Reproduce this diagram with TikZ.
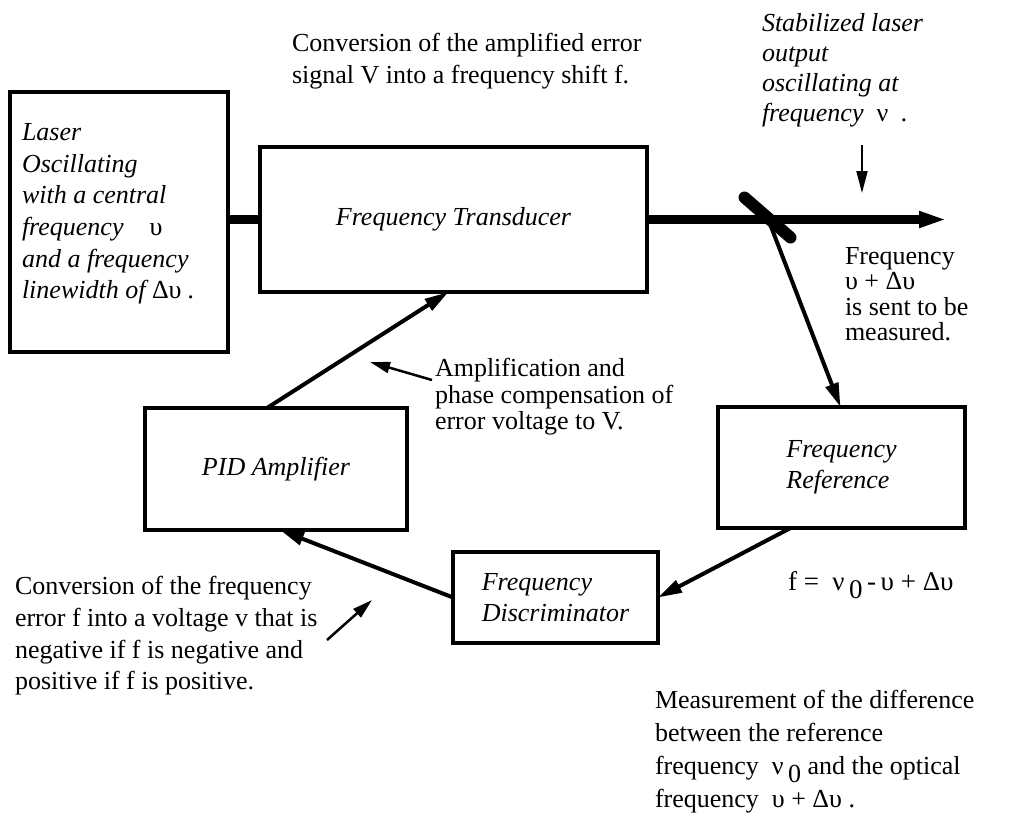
\documentclass[tikz,border=0pt]{standalone}
\usepackage{fontspec}
\setmainfont{Liberation Serif}
\usetikzlibrary{arrows.meta,calc}
\begin{document}
\begin{tikzpicture}[x=1pt,y=-1pt,
  blk/.style={draw, line width=3.5pt, inner sep=0pt, outer sep=0pt, anchor=north west, align=left,
    font=\itshape\fontsize{26}{31}\selectfont},
  txt/.style={inner sep=0pt, outer sep=0pt, anchor=west, align=left},
  beam/.style={line width=9pt},
  looparrow/.style={line width=4pt, -{Triangle[length=24pt,width=13pt]}},
  pointer/.style={line width=2.5pt, -{Triangle[length=20pt,width=11pt]}}
]
\useasboundingbox (0,0) rectangle (1011,819);

% boxes
\node[blk, minimum width=218pt, minimum height=260pt] (laser) at (10,92) {};
\node[blk, minimum width=387pt, minimum height=145pt] (trans) at (260,147) {Frequency Transducer};
\node[blk, minimum width=262pt, minimum height=122pt] (pid) at (145,408) {PID Amplifier};
\node[blk, minimum width=247pt, minimum height=121pt] (ref) at (718,407) {Frequency\\Reference};
\node[blk, minimum width=205pt, minimum height=91pt] (disc) at (453,552) {Frequency\\Discriminator};

% laser text
\node[txt, font=\itshape\fontsize{26}{31.6}\selectfont] (lasertext) at (22,214)
  {Laser\\Oscillating\\with a central\\frequency\quad{\upshape υ}\\and a frequency\\linewidth of {\upshape Δυ} .};

% texts
\node[txt, font=\fontsize{26}{32}\selectfont] (toptext) at (292,61)
  {Conversion of the amplified error\\signal V into a frequency shift f.};
\node[txt, font=\itshape\fontsize{26}{30}\selectfont] (stab) at (762,70)
  {Stabilized laser\\output\\oscillating at\\frequency\ \ {\upshape ν}\ \ .};
\node[txt, font=\fontsize{26}{25.5}\selectfont] (sent) at (845,294)
  {Frequency\\υ + Δυ\\is sent to be\\measured.};
\node[txt, font=\fontsize{26}{26.5}\selectfont] (amp) at (435,397)
  {Amplification and\\phase compensation of\\error voltage to V.};
\node[txt, font=\fontsize{26}{31.7}\selectfont] (conv) at (15,636)
  {Conversion of the frequency\\error f into a voltage v that is\\negative if f is negative and\\positive if f is positive.};
\node[txt, font=\fontsize{27}{31}\selectfont] (formula) at (788,585)
  {f =\ \ ν\,\raisebox{-8pt}{0}\,-\,υ + Δυ};
\node[txt, font=\fontsize{26}{33}\selectfont] (meas) at (655,752)
  {Measurement of the difference\\between the reference\\frequency\ \ ν\,\raisebox{-8pt}{0} and the optical\\frequency\ \ υ + Δυ .};

% beam
\coordinate (beamend) at (947,219.5);
\coordinate (bs) at (767.5,217.5);
\draw[beam] (trans.west -| laser.east) -- (trans.west);
\draw[beam, -{Triangle[length=28pt,width=15pt]}] (trans.east) -- (beamend);
% beam splitter
\draw[line width=12pt, line cap=round] ($(bs)+(-23,-20)$) -- ($(bs)+(23,20)$);

% stabilized pointer
\coordinate (stabtail) at (862,145);
\coordinate (stabtip) at (862,193);
\draw[line width=2pt, -{Triangle[length=22pt,width=11pt]}] (stabtail) -- (stabtip);

% loop
\draw[looparrow] (bs) -- ([xshift=-1pt]ref.north);
\draw[looparrow] ([xshift=-51pt]ref.south) -- (disc.east);
\draw[looparrow] (disc.west) -- ([xshift=4pt]pid.south);
\draw[looparrow] ([xshift=-9pt]pid.north) -- ([xshift=-5pt]trans.south);

% pointers
\coordinate (amptail) at (432,380);
\coordinate (amptip) at (370,362);
\draw[pointer] (amptail) -- (amptip);
\coordinate (convtail) at (327,640);
\coordinate (convtip) at (372,600);
\draw[pointer] (convtail) -- (convtip);
\end{tikzpicture}
\end{document}
